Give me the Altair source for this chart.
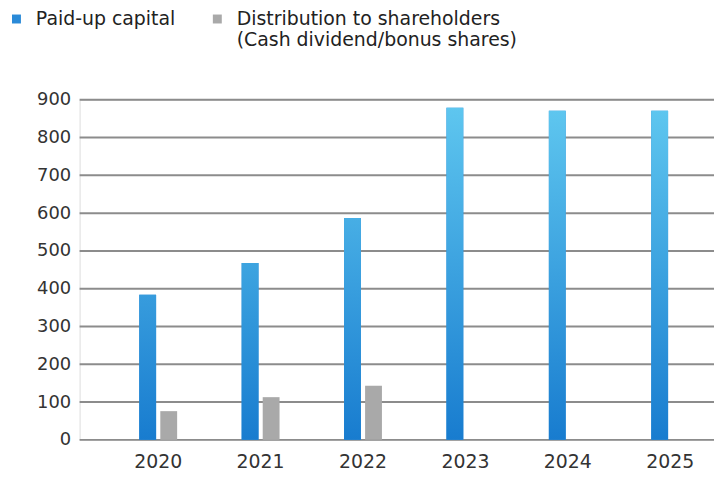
import altair as alt
import pandas as pd

FONT = "DejaVu Sans"

years = ["2020", "2021", "2022", "2023", "2024", "2025"]
paid_up = [384, 468, 587, 879, 871, 871]
dist_years = ["2020", "2021", "2022"]
distribution = [76, 113, 143]
series = ["Paid-up capital", "Distribution to shareholders (Cash dividend/bonus shares)"]
y_ticks = [0, 100, 200, 300, 400, 500, 600, 700, 800, 900]

rows = [{"year": y, "series": series[0], "value": v} for y, v in zip(years, paid_up)]
rows += [{"year": y, "series": series[1], "value": v} for y, v in zip(dist_years, distribution)]
df = pd.DataFrame(rows)
grid_df = pd.DataFrame({"value": y_ticks})

BLUE_BOTTOM = (0x18, 0x7c, 0xcf)
BLUE_TOP = (0x60, 0xc8, 0xf0)
Y_MAX = 900
W, H = 638, 342


def mix(t):
    c = [round(a + (b - a) * t) for a, b in zip(BLUE_BOTTOM, BLUE_TOP)]
    return "#%02x%02x%02x" % tuple(c)


x_enc = alt.X(
    "year:N",
    sort=years,
    scale=alt.Scale(domain=years, range=[60, 613], paddingInner=0.63, paddingOuter=0),
    axis=alt.Axis(
        title=None, labelAngle=0, domain=False, ticks=False, grid=False,
        labelPadding=13, labelFontSize=19, labelFont=FONT, labelColor="#333333",
    ),
)
xo_enc = alt.XOffset(
    "series:N", sort=series,
    scale=alt.Scale(domain=series, paddingInner=0.2, paddingOuter=0),
)
y_enc = alt.Y(
    "value:Q",
    scale=alt.Scale(domain=[0, Y_MAX], nice=False),
    axis=alt.Axis(
        title=None, values=y_ticks, domain=False, ticks=False, labelPadding=9,
        labelFontSize=18, labelFont=FONT, labelColor="#333333", grid=False,
    ),
)

gridlines = alt.Chart(grid_df).mark_rule(color="#8c8c8c", strokeWidth=2).encode(
    y=y_enc, x=alt.value(0), x2=alt.value(W)
)

label_expr = (
    "split(datum.label == 'Paid-up capital' ? datum.label + '| ' : "
    "replace(datum.label, ' (', '|('), '|')"
)

base = alt.Chart(df).mark_bar().encode(
    x=x_enc,
    xOffset=xo_enc,
    y=y_enc,
    color=alt.Color(
        "series:N",
        sort=series,
        scale=alt.Scale(domain=series, range=["#2a8ad8", "#a9a9a9"]),
        legend=alt.Legend(
            title=None, orient="none", legendX=-73, legendY=-91,
            direction="horizontal", symbolType="square", symbolSize=81,
            symbolStrokeWidth=0, labelFontSize=19, labelFont=FONT,
            labelColor="#222222", labelLimit=500, labelOffset=10,
            columnPadding=32, padding=0, labelExpr=label_expr,
        ),
    ),
)

layers = [gridlines, base]
for yr, v in zip(years, paid_up):
    grad = alt.Gradient(
        gradient="linear",
        stops=[
            alt.GradientStop(color=mix(0), offset=0),
            alt.GradientStop(color=mix(v / Y_MAX), offset=1),
        ],
        x1=0, x2=0, y1=1, y2=0,
    )
    layers.append(
        alt.Chart(df)
        .transform_filter((alt.datum.year == yr) & (alt.datum.series == series[0]))
        .mark_bar(color=grad)
        .encode(x=x_enc, xOffset=xo_enc, y=y_enc)
    )

chart = (
    alt.layer(*layers)
    .properties(
        width=W, height=H,
        autosize=alt.AutoSizeParams(type="none"),
        padding={"left": 72, "top": 91, "right": 0, "bottom": 32},
    )
    .configure_view(stroke=None)
    .configure_axis(grid=False)
    .configure(background="white")
)

chart.save("out.html", embed_options={"renderer": "svg", "actions": False})
